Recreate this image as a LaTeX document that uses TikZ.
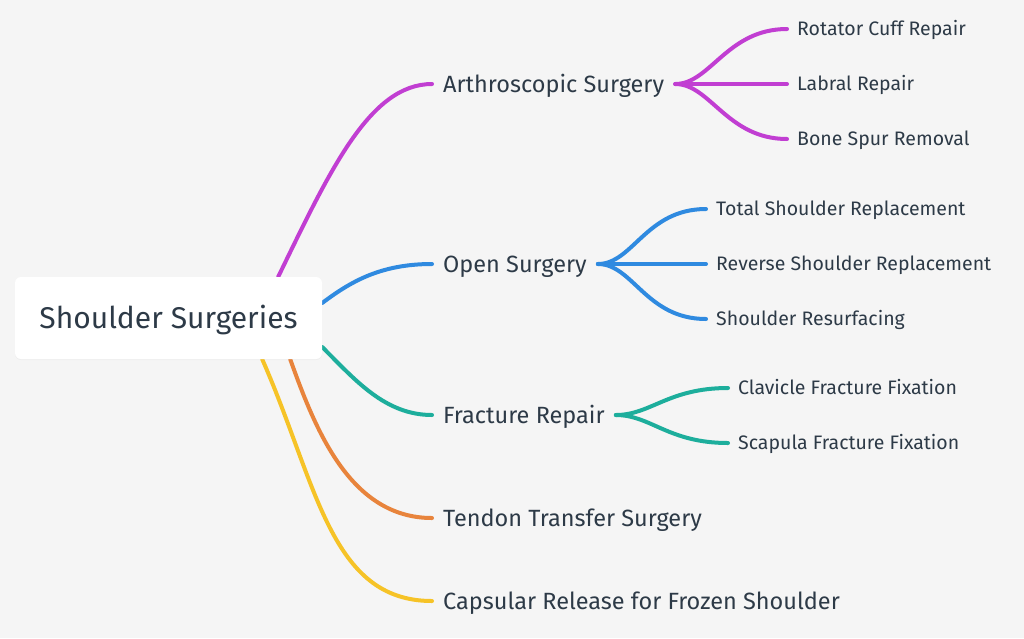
\documentclass[tikz,border=0pt]{standalone}
\usepackage{fontspec}
\setmainfont{Fira Sans}
\usetikzlibrary{positioning,shadows}
\definecolor{bg}{HTML}{F5F5F5}
\definecolor{ink}{HTML}{2D3A47}
\definecolor{cMag}{HTML}{C13ED2}
\definecolor{cBlue}{HTML}{2F8AE0}
\definecolor{cTeal}{HTML}{1DAE9C}
\definecolor{cOrange}{HTML}{E8843C}
\definecolor{cYellow}{HTML}{F6C327}
\pgfdeclarelayer{paper}
\pgfdeclarelayer{edges}
\pgfsetlayers{paper,edges,main}
\tikzset{
  root/.style={fill=white, rounded corners=6pt, minimum width=307pt, minimum height=82pt,
    text=ink, font=\fontsize{30}{36}\selectfont, text height=20.7pt, text depth=0pt,
    drop shadow={opacity=0.06, shadow xshift=0pt, shadow yshift=-1pt}},
  topic/.style={anchor=west, inner xsep=11pt, inner ysep=0pt, text=ink,
    font=\fontsize{23.5}{28}\selectfont, text height=16.2pt, text depth=0pt},
  leaf/.style={anchor=west, inner xsep=10pt, inner ysep=0pt, text=ink,
    font=\fontsize{19.5}{23}\selectfont, text height=13.4pt, text depth=0pt},
  branch/.style={line width=4pt, line cap=round},
}
\begin{document}
\begin{tikzpicture}[x=1pt, y=-1pt]
    \begin{pgfonlayer}{paper}
        \fill[bg] (0,0) rectangle (1024,638);
    \end{pgfonlayer}
    \useasboundingbox (0,0) rectangle (1024,638);
    % centre
    \node[root] (root) at (168.5,318) {Shoulder Surgeries};
    % main topics
    \node[topic] (arthro) at (432,84) {Arthroscopic Surgery};
    \node[topic] (open) at (432,264) {Open Surgery};
    \node[topic] (fract) at (432,415) {Fracture Repair};
    \node[topic] (tendon) at (432,518) {Tendon Transfer Surgery};
    \node[topic] (caps) at (432,601) {Capsular Release for Frozen Shoulder};
    % leaves
    \node[leaf] (rotator) at (787,29) {Rotator Cuff Repair};
    \node[leaf] (labral) at (787,84) {Labral Repair};
    \node[leaf] (spur) at (787,139) {Bone Spur Removal};
    \node[leaf] (total) at (706,209) {Total Shoulder Replacement};
    \node[leaf] (reverse) at (706,264) {Reverse Shoulder Replacement};
    \node[leaf] (resurf) at (706,319) {Shoulder Resurfacing};
    \node[leaf] (clavicle) at (728,388) {Clavicle Fracture Fixation};
    \node[leaf] (scapula) at (728,443) {Scapula Fracture Fixation};
    \begin{pgfonlayer}{edges}
        % from the centre
        \draw[branch, cMag] ([xshift=-44pt]root.north east) .. controls +(52,-107) and +(-62,0) .. (arthro.west);
        \draw[branch, cBlue] ([yshift=15pt]root.east) .. controls +(28,-21) and +(-52,0) .. (open.west);
        \draw[branch, cTeal] ([yshift=-29pt]root.east) .. controls +(33,33) and +(-47,0) .. (fract.west);
        \draw[branch, cOrange] ([xshift=-32pt]root.south east) .. controls +(25,70) and +(-82,0) .. (tendon.west);
        \draw[branch, cYellow] ([xshift=-60pt]root.south east) .. controls +(55,125) and +(-102,0) .. (caps.west);
        % sub topics
        \foreach \leafname in {rotator,spur}
            \draw[branch, cMag] (arthro.east) .. controls +(35,0) and +(-60,0) .. (\leafname.west);
        \draw[branch, cMag] (arthro.east) -- (labral.west);
        \foreach \leafname in {total,resurf}
            \draw[branch, cBlue] (open.east) .. controls +(35,0) and +(-60,0) .. (\leafname.west);
        \draw[branch, cBlue] (open.east) -- (reverse.west);
        \foreach \leafname in {clavicle,scapula}
            \draw[branch, cTeal] (fract.east) .. controls +(35,0) and +(-60,0) .. (\leafname.west);
    \end{pgfonlayer}
\end{tikzpicture}
\end{document}
